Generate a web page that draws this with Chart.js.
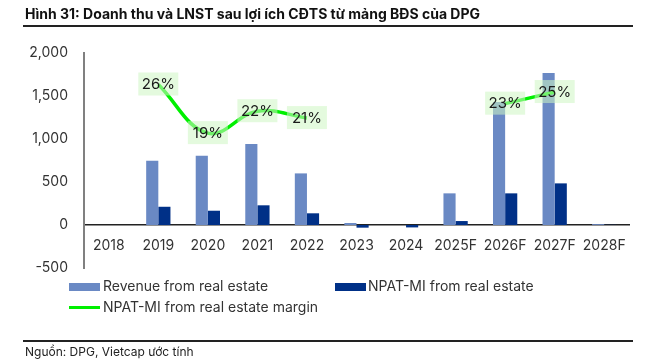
<!DOCTYPE html>
<html>
<head>
<meta charset="utf-8">
<script src="https://cdn.jsdelivr.net/npm/chart.js@4.4.1/dist/chart.umd.min.js"></script>
<style>
  body { margin: 0; background: #fff; font-family: Inter, "Noto Sans", sans-serif; color: #222; }
  #wrap { position: relative; width: 657px; height: 363px; overflow: hidden; }
  #chart { position: absolute; left: 0; top: 0; }
  .title { position: absolute; left: 25px; top: 5px; font-weight: 700; font-size: 14px; color: #111; white-space: nowrap; }
  .rule { position: absolute; left: 23px; width: 610px; height: 1.5px; background: #222; }
  .leg { position: absolute; font-size: 14px; color: #333; white-space: nowrap; line-height: 16px; }
  .sw { position: absolute; }
  .src { position: absolute; left: 25px; top: 344px; font-size: 12px; color: #222; white-space: nowrap; }
</style>
</head>
<body>
<div id="wrap">
  <canvas id="chart" width="657" height="363"></canvas>
  <div class="title">Hình 31: Doanh thu và LNST sau lợi ích CĐTS từ mảng BĐS của DPG</div>
  <div class="rule" style="top:25px"></div>

  <div class="sw" style="left:69px;top:283px;width:31px;height:8px;background:#6A89C4"></div>
  <div class="leg" style="left:103px;top:278px">Revenue from real estate</div>
  <div class="sw" style="left:335px;top:283px;width:31px;height:8px;background:#003087"></div>
  <div class="leg" style="left:368px;top:278px">NPAT-MI from real estate</div>
  <div class="sw" style="left:69px;top:306px;width:31px;height:3px;background:#00F000"></div>
  <div class="leg" style="left:103px;top:299px">NPAT-MI from real estate margin</div>

  <div class="rule" style="top:340px"></div>
  <div class="src">Nguồn: DPG, Vietcap ước tính</div>
</div>
<script>
var years = ['2018', '2019', '2020', '2021', '2022', '2023', '2024', '2025F', '2026F', '2027F', '2028F'];
var revenue = [0, 746, 804, 943, 600, 23, 0, 368, 1430, 1767, 10];
var npat = [0, 212, 166, 229, 136, -31, -28, 46, 368, 484, 2];
var margin = [null, 26.2, 19.1, 22.3, 21.3, null, null, null, 23.4, 25.1, null];
var yTicks = [-500, 0, 500, 1000, 1500, 2000];

// boxes with % labels on top of the margin line
var marginLabels = {
  id: 'marginLabels',
  afterDatasetsDraw: function(chart) {
    var ctx = chart.ctx;
    var meta = chart.getDatasetMeta(2);
    ctx.save();
    meta.data.forEach(function(pt, i) {
      if (margin[i] === null) return;
      ctx.fillStyle = 'rgba(205, 245, 195, 0.55)';
      ctx.fillRect(pt.x - 20, pt.y - 12, 40, 23);
      ctx.fillStyle = '#1a1a1a';
      ctx.font = '15px Inter';
      ctx.textAlign = 'center';
      ctx.textBaseline = 'middle';
      ctx.fillText(Math.round(margin[i]) + '%', pt.x, pt.y);
    });
    ctx.restore();
  }
};

var chart = new Chart(document.getElementById('chart'), {
  type: 'bar',
  data: {
    labels: years,
    datasets: [
      { label: 'Revenue from real estate', data: revenue, backgroundColor: '#6A89C4', order: 2 },
      { label: 'NPAT-MI from real estate', data: npat, backgroundColor: '#003087', order: 2 },
      { type: 'line', label: 'NPAT-MI from real estate margin', data: margin, yAxisID: 'y1',
        borderColor: '#00F000', borderWidth: 3.5, tension: 0.4, pointRadius: 0, spanGaps: false, order: 1 }
    ]
  },
  options: {
    responsive: false,
    animation: false,
    layout: { padding: { top: 53, right: 28, bottom: 95, left: 0 } },
    datasets: { bar: { categoryPercentage: 0.49, barPercentage: 1.0 } },
    plugins: { legend: { display: false }, tooltip: { enabled: false } },
    scales: {
      x: {
        position: { y: 0 },
        grid: { display: false, drawTicks: false },
        border: { display: true, color: '#222', width: 1.5 },
        ticks: { color: '#333', font: { family: 'Inter', size: 14 }, padding: 12, maxRotation: 0, autoSkip: false }
      },
      y: {
        min: -500, max: 2000,
        afterBuildTicks: function(s) { s.ticks = yTicks.map(function(v) { return { value: v }; }); },
        afterFit: function(s) { s.width = 84; },
        grid: { display: false, drawTicks: false },
        border: { display: true, color: '#808080', width: 2 },
        ticks: { color: '#333', font: { family: 'Inter', size: 14 }, padding: 16,
          callback: function(v) { return v.toLocaleString('en-US'); } }
      },
      y1: { min: -0.6, max: 30.8, display: false }
    }
  },
  plugins: [marginLabels]
});
</script>
</body>
</html>
